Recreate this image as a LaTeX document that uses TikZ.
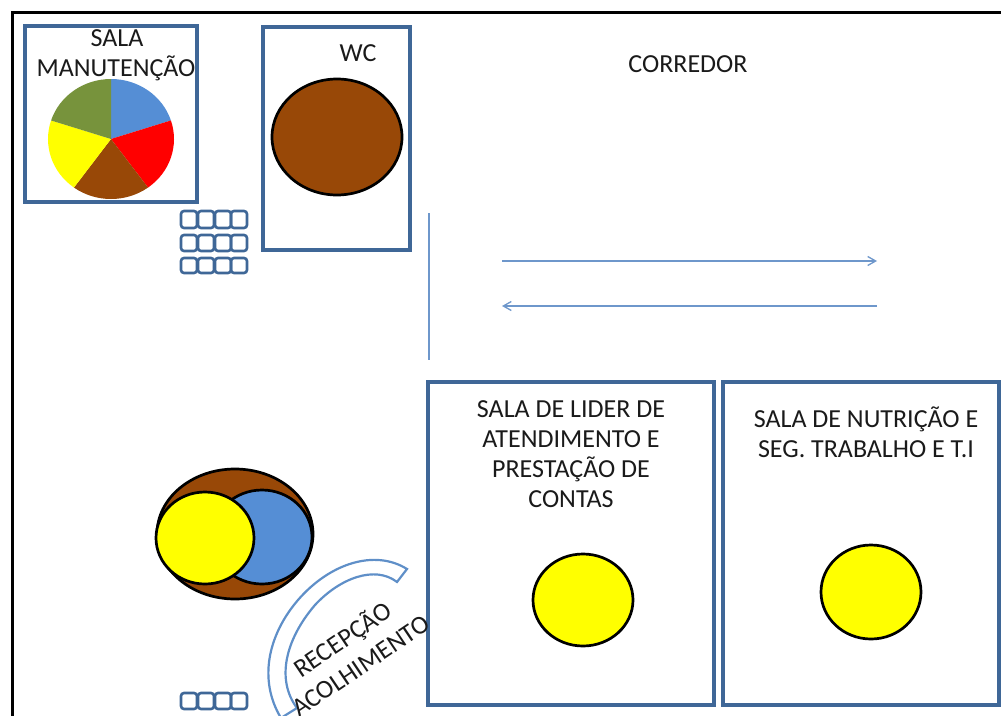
\documentclass[tikz,border=0pt]{standalone}
\usepackage{fontspec}
\setmainfont{Carlito}
\usetikzlibrary{arrows.meta}
\definecolor{boxblue}{HTML}{3F6797}
\definecolor{fillblue}{HTML}{558ED5}
\definecolor{linkblue}{HTML}{6E97CB}
\definecolor{bandblue}{HTML}{5F8FC8}
\definecolor{brownf}{HTML}{984807}
\definecolor{greenf}{HTML}{77933C}
\definecolor{yellowf}{HTML}{FFFF00}
\definecolor{redf}{HTML}{FF0000}
\definecolor{txt}{HTML}{1A1A1A}
\tikzset{
  room/.style={draw=boxblue,line width=3.2pt,fill=none,anchor=north west,inner sep=0pt,outer sep=0pt},
  lab/.style={font=\fontsize{26}{30}\selectfont,text=txt,align=center,inner sep=0pt},
  blob/.style={draw=black,line width=2.7pt},
  cell/.style={draw=boxblue,line width=2.6pt,rounded corners=3pt},
  link/.style={draw=linkblue,line width=1.3pt},
  arrowlink/.style={link,-{Straight Barb[length=8pt,width=9pt]}},
}
\begin{document}
\begin{tikzpicture}[x=1pt,y=-1pt]
\useasboundingbox (0,0) rectangle (1001,715);
\begin{scope}
\clip (0,0) rectangle (1001,715);
% outer frame
\draw[black,line width=3.2pt] (12.5,720) -- (12.5,12.5) -- (1005,12.5);

% rooms
\node[room,minimum width=172pt,minimum height=176pt] (manut) at (25,26) {};
\node[room,minimum width=147pt,minimum height=223pt] (wc) at (263,27) {};
\node[room,minimum width=286pt,minimum height=323pt] (lider) at (428,382) {};
\node[room,minimum width=276pt,minimum height=323pt] (nutri) at (723,382) {};

% pie
\def\pcx{111}\def\pcy{139}
\begin{scope}[shift={(\pcx,\pcy)},x=63pt,y=60pt]
\fill[fillblue] (0,0) -- (90:1) arc[start angle=90,end angle=18,radius=1] -- cycle;
\fill[redf] (0,0) -- (18:1) arc[start angle=18,end angle=-54,radius=1] -- cycle;
\fill[brownf] (0,0) -- (-54:1) arc[start angle=-54,end angle=-126,radius=1] -- cycle;
\fill[yellowf] (0,0) -- (-126:1) arc[start angle=-126,end angle=-198,radius=1] -- cycle;
\fill[greenf] (0,0) -- (162:1) arc[start angle=162,end angle=90,radius=1] -- cycle;
\end{scope}

% WC ellipse
\draw[blob,fill=brownf] (337,137) ellipse [x radius=65,y radius=58];

% venn
\draw[blob,fill=brownf] (235,534) ellipse [x radius=78,y radius=65];
\draw[blob,fill=fillblue] (262,537) ellipse [x radius=50,y radius=47];
\draw[blob,fill=yellowf] (205,538) ellipse [x radius=49,y radius=46];

% yellow circles
\draw[blob,fill=yellowf] (583,600) ellipse [x radius=50,y radius=46];
\draw[blob,fill=yellowf] (871,592) ellipse [x radius=50,y radius=47];

% chair rows
\foreach \yy/\hh in {211/17,235/16,258/15,693/16}{
  \foreach \xx in {181,198,215,231}{
    \draw[cell] (\xx,\yy) rectangle ++(16,\hh);
  }
}

% reception curved band
\draw[draw=bandblue,line width=2.2pt,fill=white]
  (407,569) .. controls (375,549) and (330,563) .. (298,600)
  .. controls (268,635) and (258,680) .. (281,718)
  -- (297,708)
  .. controls (276,680) and (285,640) .. (315,605)
  .. controls (340,578) and (375,565) .. (397,582) -- cycle;

% corridor lines
\coordinate (wall1) at (429,213);
\coordinate (wall2) at (429,360);
\coordinate (a1) at (502,261);
\coordinate (a2) at (877,261);
\coordinate (b1) at (877,306);
\coordinate (b2) at (502,306);
\draw[link] (wall1) -- (wall2);
\draw[arrowlink] (a1) -- (a2);
\draw[arrowlink] (b1) -- (b2);

% labels
\node[lab] (t1) at (117,38) {SALA};
\node[lab] (t2) at (116,68) {MANUTENÇÃO};
\node[lab] (t3) at (358,53) {WC};
\node[lab] (t4) at (688,64) {CORREDOR};
\node[lab] (t5) at (571,454) {SALA DE LIDER DE\\ATENDIMENTO E\\PRESTAÇÃO DE\\CONTAS};
\node[lab] (t6) at (866,432) {SALA DE NUTRIÇÃO E\\SEG. TRABALHO E T.I};
\node[lab,rotate=34] (t7) at (343,640) {RECEPÇÃO};
\node[lab,rotate=34] (t8) at (361,666) {ACOLHIMENTO};
\end{scope}
\end{tikzpicture}
\end{document}
